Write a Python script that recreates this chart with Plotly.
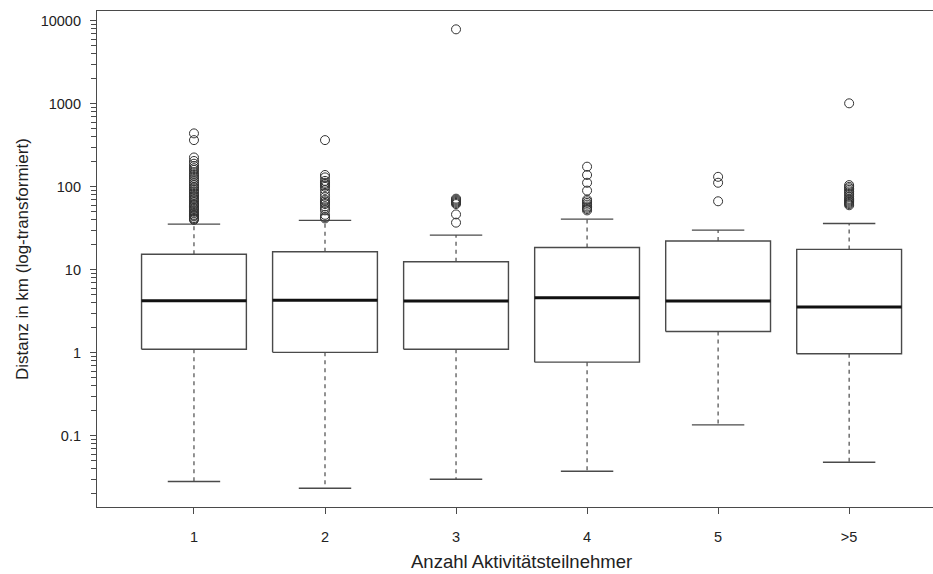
import plotly.graph_objects as go

# ---------------- data ----------------
categories = ["1", "2", "3", "4", "5", ">5"]
positions = [1, 2, 3, 4, 5, 6]
q1 = [1.10, 1.01, 1.10, 0.77, 1.80, 0.97]
median = [4.22, 4.30, 4.19, 4.59, 4.19, 3.57]
q3 = [15.4, 16.5, 12.5, 18.6, 22.2, 17.6]
lower_whisker = [0.028, 0.0232, 0.0298, 0.0372, 0.135, 0.0478]
upper_whisker = [35.5, 39.4, 26.2, 40.8, 30.1, 36.2]
outliers = [
    [441, 366, 226, 205, 190, 178, 168, 160, 150, 142, 135, 128, 122, 116, 110,
     105, 100, 96, 92, 88, 84, 80, 77, 74, 71, 68, 65, 62, 60, 58, 56, 54, 52,
     50, 48, 46, 45, 44, 42, 41, 40],
    [366, 139, 130, 118, 112, 108, 104, 100, 92, 83, 76, 70, 67, 64, 62, 58,
     55, 52, 46, 43, 41.6],
    [7925, 72, 70, 68, 66, 64, 62, 46.5, 37],
    [175, 139, 112, 90, 70, 67, 64, 61, 58, 56, 54, 52],
    [132, 112, 67],
    [1016, 105, 100, 96, 92, 88, 84, 80, 76, 72, 70, 68, 66, 64, 62, 60],
]
y_tick_vals = [0.1, 1, 10, 100, 1000, 10000]
y_tick_text = ["0.1", "1", "10", "100", "1000", "10000"]
x_title = "Anzahl Aktivitätsteilnehmer"
y_title = "Distanz in km (log-transformiert)"

# ---------------- styling ----------------
FONT = "Liberation Sans, Arial, Helvetica, sans-serif"
BOX_HALF = 0.4
CAP_HALF = 0.2
LINE_COL = "#4a4a4a"

box_x, box_y = [], []
med_x, med_y = [], []
wh_x, wh_y = [], []
cap_x, cap_y = [], []
out_x, out_y = [], []
for i, p in enumerate(positions):
    box_x += [p - BOX_HALF, p + BOX_HALF, p + BOX_HALF, p - BOX_HALF, p - BOX_HALF, None]
    box_y += [q1[i], q1[i], q3[i], q3[i], q1[i], None]
    med_x += [p - BOX_HALF, p + BOX_HALF, None]
    med_y += [median[i], median[i], None]
    wh_x += [p, p, None, p, p, None]
    wh_y += [q3[i], upper_whisker[i], None, q1[i], lower_whisker[i], None]
    cap_x += [p - CAP_HALF, p + CAP_HALF, None, p - CAP_HALF, p + CAP_HALF, None]
    cap_y += [upper_whisker[i], upper_whisker[i], None, lower_whisker[i], lower_whisker[i], None]
    out_x += [p] * len(outliers[i])
    out_y += outliers[i]

fig = go.Figure()
fig.add_trace(go.Scatter(x=wh_x, y=wh_y, mode="lines",
                         line=dict(color=LINE_COL, width=1.2, dash="4px,4px"),
                         hoverinfo="skip", showlegend=False))
fig.add_trace(go.Scatter(x=cap_x, y=cap_y, mode="lines",
                         line=dict(color=LINE_COL, width=1.4),
                         hoverinfo="skip", showlegend=False))
fig.add_trace(go.Scatter(x=box_x, y=box_y, mode="lines",
                         line=dict(color=LINE_COL, width=1.4),
                         hoverinfo="skip", showlegend=False))
fig.add_trace(go.Scatter(x=med_x, y=med_y, mode="lines",
                         line=dict(color="#111111", width=3),
                         hoverinfo="skip", showlegend=False))
fig.add_trace(go.Scatter(x=out_x, y=out_y, mode="markers",
                         marker=dict(symbol="circle-open", size=9,
                                     color="#333333", line=dict(width=1)),
                         hoverinfo="skip", showlegend=False))

# minor ticks at 2..9 of each decade
minor_vals = [m * 10.0 ** e for e in range(-2, 5) for m in range(2, 10)]

W, H = 933, 574
L, R, T, B = 97, 0, 11, 67
fig.update_layout(
    width=W, height=H,
    margin=dict(l=L, r=R, t=T, b=B, pad=0),
    paper_bgcolor="white", plot_bgcolor="white",
    font=dict(family=FONT, size=14, color="#222222"),
    showlegend=False,
    hovermode=False,
    xaxis=dict(
        range=[0.26, 6.64],
        tickmode="array", tickvals=positions, ticktext=categories,
        showgrid=False, zeroline=False,
        showline=True, linecolor=LINE_COL, linewidth=1.2, mirror=True,
        ticks="outside", ticklen=6, tickwidth=1, tickcolor=LINE_COL,
        ticklabelstandoff=10,
        tickfont=dict(size=14.5, family=FONT, color="#222222"),
    ),
    yaxis=dict(
        type="log",
        range=[-1.86, 4.12],
        tickmode="array", tickvals=y_tick_vals, ticktext=y_tick_text,
        showgrid=False, zeroline=False,
        showline=True, linecolor=LINE_COL, linewidth=1.2,
        ticks="outside", ticklen=6, tickwidth=1, tickcolor=LINE_COL,
        ticklabelstandoff=6,
        tickfont=dict(size=14.5, family=FONT, color="#222222"),
        minor=dict(tickmode="array", tickvals=minor_vals, ticks="outside",
                   ticklen=5, tickwidth=1, tickcolor=LINE_COL, showgrid=False),
    ),
    annotations=[
        dict(text=x_title, xref="paper", yref="paper",
             x=(521.7 - L) / (W - L - R), y=(H - B - 561) / (H - T - B),
             xanchor="center", yanchor="middle", showarrow=False, borderpad=0,
             font=dict(size=18.5, family=FONT, color="#222222")),
        dict(text=y_title, xref="paper", yref="paper",
             x=(22 - L) / (W - L - R), y=0.5, textangle=-90,
             xanchor="center", yanchor="middle", showarrow=False, borderpad=0,
             font=dict(size=17, family=FONT, color="#222222")),
    ],
)

fig.write_html("out.html")
